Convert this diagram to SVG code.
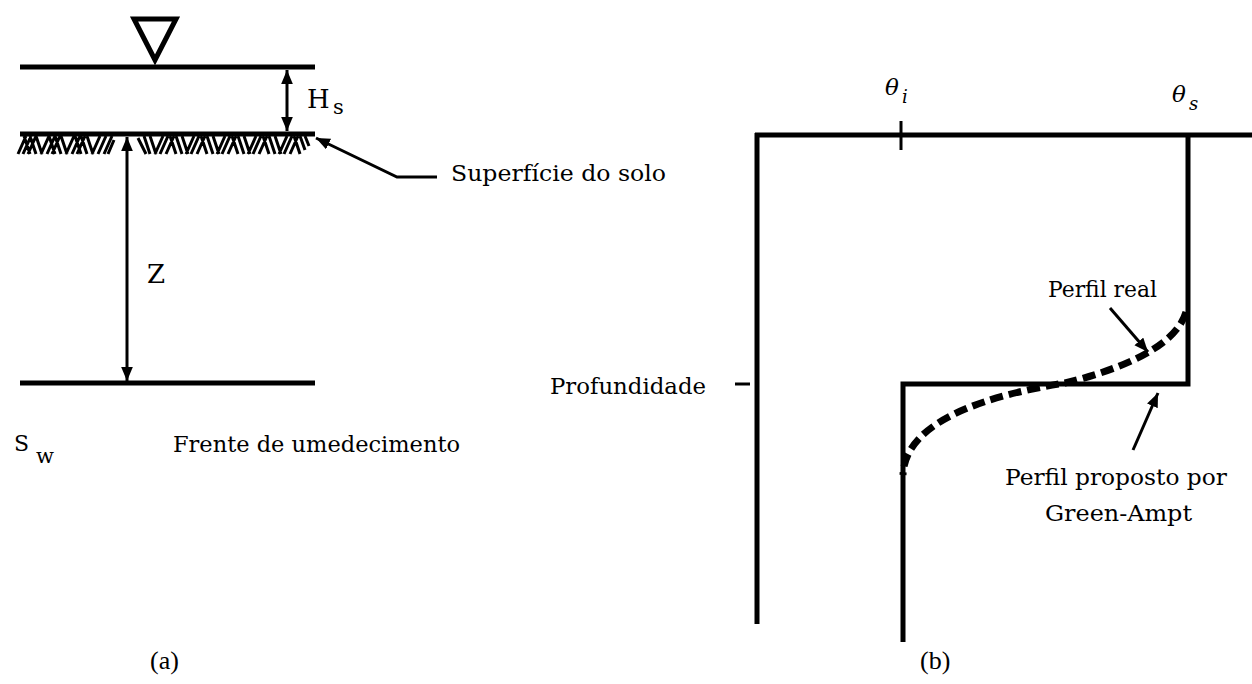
<svg xmlns="http://www.w3.org/2000/svg" width="1252" height="684" viewBox="0 0 1252 684">
<style>
.t{font-family:"DejaVu Serif","Liberation Serif",serif;font-size:22px;fill:#000}
.ti{font-family:"DejaVu Serif","Liberation Serif",serif;font-style:italic;fill:#000}
.cap{font-family:"Liberation Serif",serif;font-size:26px;fill:#000}
.thick{stroke:#000;stroke-width:5;fill:none}
.thin{stroke:#000;stroke-width:3;fill:none}
.arr{stroke:#000;stroke-width:3;fill:none}
.hatch{stroke:#000;stroke-width:3;fill:none}
</style>
<defs>
<marker id="ah" viewBox="0 0 12 10" refX="12" refY="5" markerWidth="14" markerHeight="12" markerUnits="userSpaceOnUse" orient="auto-start-reverse">
<path d="M0,0 L12,5 L0,10 Z" fill="#000"/>
</marker>
</defs>
<rect width="1252" height="684" fill="#fff"/>

<g id="panel-a">
<g id="water-symbol"><polygon points="134,19 176,19 155,60" class="thick" stroke-width="5.5" stroke-linejoin="miter"/></g>
<g id="water-surface"><line x1="20" y1="67" x2="315" y2="67" class="thick"/></g>
<g id="soil-surface">
<line x1="20" y1="134" x2="315" y2="134" class="thick"/>
<path class="hatch" d="M18,154L26,136M23,154L31,136M28,154L36,136M30,154L24,136M36,154L30,136M42,154L36,136M41,154L49,136M47,154L55,136M52,154L60,136M55,154L49,136M61,154L55,136M67,154L61,136M66,154L74,136M72,154L80,136M77,154L85,136M81,154L75,136M87,154L81,136M93,154L87,136M92,154L100,136M98,154L106,136M104,154L112,136M108,154L114,140"/>
<path class="hatch" d="M138,138L146,154M144,136L150,154M150,136L156,154M155,154L163,136M160,154L168,136M166,154L174,136M170,136L176,154M176,136L182,154M182,136L188,154M186,154L194,136M191,154L199,136M197,154L205,136M201,136L207,154M207,136L213,154M213,136L219,154M217,154L225,136M222,154L230,136M228,154L236,136M232,136L238,154M238,136L244,154M244,136L250,154M248,154L256,136M253,154L261,136M259,154L267,136M263,136L269,154M269,136L275,154M275,136L281,154M279,154L287,136M284,154L292,136M290,154L298,136M294,136L300,154M300,136L305,150M305,136L309,146"/>
</g>
<g id="wetting-front"><line x1="20" y1="383" x2="315" y2="383" class="thick"/></g>
<g id="label-hs"><text class="t" x="307" y="108" style="font-size:26px">H</text><text class="t" x="333" y="114" style="font-size:21px">s</text></g>
<g id="label-z"><text class="t" x="147" y="283" style="font-size:26px">Z</text></g>
<g id="label-superficie"><text class="t" x="451" y="181" textLength="215" lengthAdjust="spacingAndGlyphs">Superfície do solo</text></g>
<g id="label-sw"><text class="t" x="14" y="451" style="font-size:22px">S</text><text class="t" x="36" y="463" style="font-size:21px">w</text></g>
<g id="label-frente"><text class="t" x="173" y="452" textLength="287" lengthAdjust="spacingAndGlyphs">Frente de umedecimento</text></g>
<g id="caption-a"><text class="cap" x="150" y="669">(a)</text></g>
</g>

<g id="panel-b">
<g id="axes">
<line x1="755" y1="135" x2="1252" y2="135" class="thick"/>
<line x1="757" y1="133" x2="757" y2="624" class="thick"/>
<line x1="901" y1="121" x2="901" y2="150" class="thin"/>
<line x1="735" y1="384" x2="750" y2="384" class="thin"/>
</g>
<g id="green-ampt-profile">
<path d="M1188,135 L1188,384 L903,384 L903,642" class="thick" stroke-linejoin="miter"/>
</g>
<g id="real-profile">
<path d="M1186,312 C1175,350 1110,372 1065,383 C990,395 905,420 903,475" stroke="#000" stroke-width="7" fill="none" stroke-dasharray="13,6"/>
</g>
<g id="label-theta-i"><text class="ti" x="885" y="95" style="font-size:23px">θ</text><text class="ti" x="902" y="103" style="font-size:18px">i</text></g>
<g id="label-theta-s"><text class="ti" x="1172" y="102" style="font-size:23px">θ</text><text class="ti" x="1189" y="110" style="font-size:18px">s</text></g>
<g id="label-profundidade"><text class="t" x="550" y="394" textLength="156" lengthAdjust="spacingAndGlyphs">Profundidade</text></g>
<g id="label-perfil-real"><text class="t" x="1048" y="297" textLength="109" lengthAdjust="spacingAndGlyphs">Perfil real</text></g>
<g id="label-perfil-proposto">
<text class="t" x="1005" y="485" textLength="222" lengthAdjust="spacingAndGlyphs">Perfil proposto por</text>
<text class="t" x="1045" y="521" textLength="147" lengthAdjust="spacingAndGlyphs">Green-Ampt</text>
</g>
<g id="caption-b"><text class="cap" x="920" y="669">(b)</text></g>
</g>

<g id="connectors">
<line x1="287" y1="70" x2="287" y2="131" class="arr" marker-start="url(#ah)" marker-end="url(#ah)"/>
<line x1="127" y1="137" x2="127" y2="381" class="arr" marker-start="url(#ah)" marker-end="url(#ah)"/>
<path d="M437,177 L397,177 L316,138" class="arr" marker-end="url(#ah)"/>
<line x1="1110" y1="308" x2="1148" y2="352" class="arr" marker-end="url(#ah)"/>
<line x1="1133" y1="450" x2="1158" y2="393" class="arr" marker-end="url(#ah)"/>
</g>
</svg>
